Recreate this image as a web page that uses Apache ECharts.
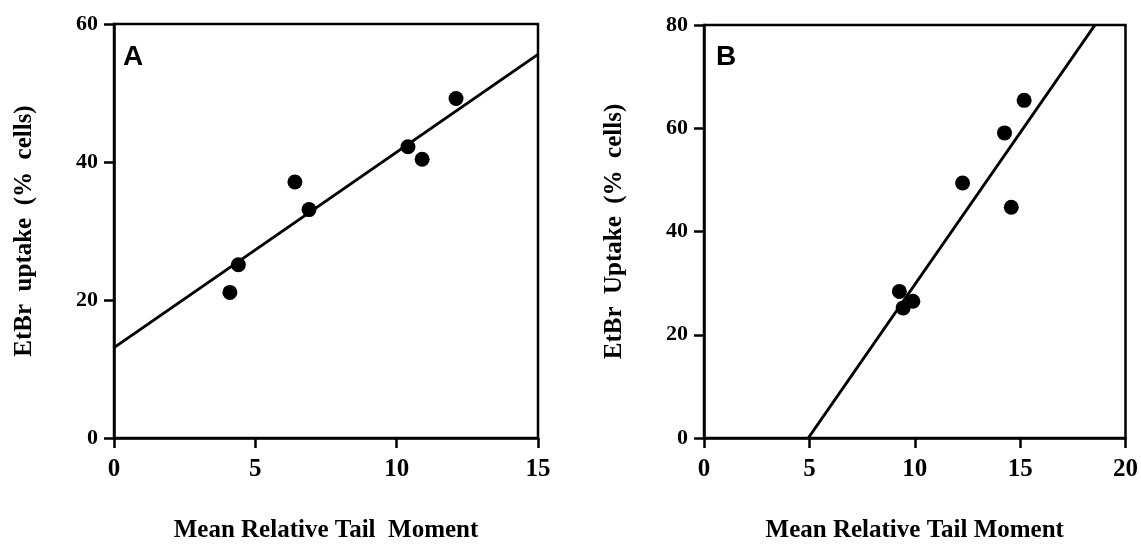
<!DOCTYPE html>
<html>
<head>
<meta charset="utf-8">
<script src="https://cdn.jsdelivr.net/npm/echarts@6/dist/echarts.min.js"></script>
<style>
  html, body { margin: 0; padding: 0; background: #fff; }
  #main { width: 1141px; height: 548px; }
</style>
</head>
<body>
<div id="main"></div>
<script>
// panel A - tail moment vs EtBr uptake
var tailA = [4.1, 4.4, 6.4, 6.9, 10.4, 10.9, 12.1]
var uptakeA = [21.1, 25.1, 37.1, 33.1, 42.2, 40.4, 49.2]
var fitA = [[0, 13.1], [15, 55.6]]

// panel B
var tailB = [9.27, 9.45, 9.91, 12.27, 14.26, 14.58, 15.19]
var uptakeB = [28.4, 25.2, 26.5, 49.4, 59.1, 44.7, 65.4]
var fitB = [[4.95, 0], [18.55, 80]]

var ticksA_x = [0, 5, 10, 15]
var ticksA_y = [0, 20, 40, 60]
var ticksB_x = [0, 5, 10, 15, 20]
var ticksB_y = [0, 20, 40, 60, 80]

var serif = '"Liberation Serif", "DejaVu Serif", serif'

function pairs(xs, ys) {
    return xs.map(function (x, i) { return [x, ys[i]] })
}

function xAx(idx, ticks, name) {
    return {
        type: 'value', gridIndex: idx,
        min: ticks[0], max: ticks[ticks.length - 1], interval: ticks[1] - ticks[0],
        name: name, nameLocation: 'middle', nameGap: 80,
        nameTextStyle: { fontFamily: serif, fontWeight: 'bold', fontSize: 25, color: '#000' },
        axisLine: { onZero: false, lineStyle: { color: '#000', width: 2.5 } },
        axisTick: { length: 10, lineStyle: { color: '#000', width: 2.5 } },
        axisLabel: { margin: 19, fontFamily: serif, fontWeight: 'bold', fontSize: 25, color: '#000' },
        splitLine: { show: false }
    }
}

function yAx(idx, ticks, name, gap) {
    return {
        type: 'value', gridIndex: idx,
        min: ticks[0], max: ticks[ticks.length - 1], interval: ticks[1] - ticks[0],
        name: name, nameLocation: 'middle', nameGap: gap, nameRotate: 90,
        nameTextStyle: { fontFamily: serif, fontWeight: 'bold', fontSize: 25, color: '#000' },
        axisLine: { onZero: false, lineStyle: { color: '#000', width: 2.5 } },
        axisTick: { length: 10, lineStyle: { color: '#000', width: 2.5 } },
        axisLabel: { margin: 16, fontFamily: serif, fontWeight: 'bold', fontSize: 22, color: '#000' },
        splitLine: { show: false }
    }
}

var chart = echarts.init(document.getElementById('main'))
chart.setOption({
    animation: false,
    backgroundColor: '#fff',
    grid: [
        { left: 114, right: 603, top: 24, bottom: 98, show: true, borderColor: '#000', borderWidth: 2.5 },
        { left: 704, right: 13, top: 25, bottom: 96, show: true, borderColor: '#000', borderWidth: 2.5 }
    ],
    xAxis: [
        xAx(0, ticksA_x, 'Mean Relative Tail  Moment'),
        xAx(1, ticksB_x, 'Mean Relative Tail Moment')
    ],
    yAxis: [
        yAx(0, ticksA_y, 'EtBr  uptake  (%  cells)', 77),
        yAx(1, ticksB_y, 'EtBr  Uptake  (%  cells)', 77)
    ],
    graphic: [
        { type: 'text', left: 123, top: 43, style: { text: 'A', font: 'bold 28px "Liberation Sans", Arial, sans-serif', fill: '#000' } },
        { type: 'text', left: 716, top: 43, style: { text: 'B', font: 'bold 28px "Liberation Sans", Arial, sans-serif', fill: '#000' } }
    ],
    series: [
        { type: 'line', xAxisIndex: 0, yAxisIndex: 0, data: fitA, symbol: 'none',
          lineStyle: { color: '#000', width: 3 } },
        { type: 'scatter', xAxisIndex: 0, yAxisIndex: 0, data: pairs(tailA, uptakeA),
          symbolSize: 15, itemStyle: { color: '#000', opacity: 1 } },
        { type: 'line', xAxisIndex: 1, yAxisIndex: 1, data: fitB, symbol: 'none',
          lineStyle: { color: '#000', width: 3 } },
        { type: 'scatter', xAxisIndex: 1, yAxisIndex: 1, data: pairs(tailB, uptakeB),
          symbolSize: 15, itemStyle: { color: '#000', opacity: 1 } }
    ]
})
</script>
</body>
</html>
